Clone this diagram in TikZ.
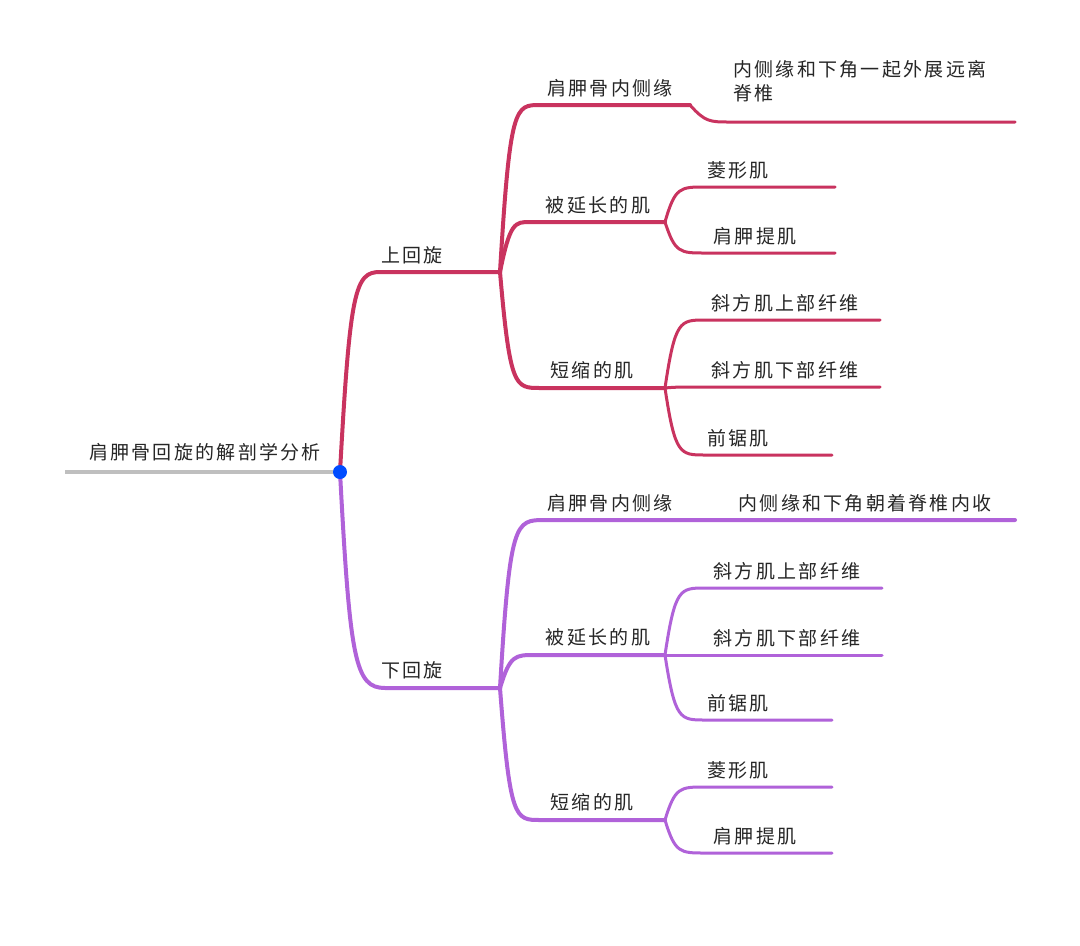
\documentclass[tikz,border=0pt]{standalone}
\usepackage{fontspec}
\newfontfamily\cjk[LetterSpace=12]{Noto Sans CJK SC}
\definecolor{rd}{HTML}{C9335F}
\definecolor{pu}{HTML}{B062D9}
\begin{document}
\begin{tikzpicture}[x=1pt,y=-1pt,
  lbl/.style={font=\cjk\fontsize{19}{24}\selectfont,inner sep=0pt,text=black!85},
  br/.style={line width=4pt,line cap=round},
  lf/.style={line width=3pt,line cap=round}]
\useasboundingbox (0,0) rectangle (1080,946);
\fill[white] (0,0) rectangle (1080,946);
% root
\coordinate (r0) at (65,472); \coordinate (r) at (340,472);
\draw[line width=4pt,gray!50] (r0) -- (r);
\node[lbl] (rt) at (205,452) {肩胛骨回旋的解剖学分析};
% upper
\coordinate (u) at (500,272);
\draw[br,rd] (r) .. controls (350,290) and (355,272) .. (380,272) -- (u);
\node[lbl] (ut) at (412,255) {上回旋};
\foreach \n/\y/\xe/\xm in {a/105/690/540,b/222/665/530,c/388/665/540}{
  \coordinate (u\n) at (\xe,\y);
  \draw[br,rd] (u) .. controls (510,\y) and (515,\y) .. (\xm,\y) -- (u\n);
}
\node[lbl] (uat) at (610,88) {肩胛骨内侧缘};
\node[lbl] (ubt) at (598,205) {被延长的肌};
\node[lbl] (uct) at (592,370) {短缩的肌};
\coordinate (uae) at (1015,122);
\draw[lf,rd] (ua) .. controls (705,122) and (710,122) .. (730,122) -- (uae);
\node[lbl,align=left,anchor=north west] (uat2) at (733,60) {内侧缘和下角一起外展远离\\脊椎};
\foreach \p/\y/\xe/\t/\tx in {ub/187/835/菱形肌/738,ub/253/835/肩胛提肌/755,uc/320/880/斜方肌上部纤维/785,uc/387/880/斜方肌下部纤维/785,uc/455/832/前锯肌/738}{
  \coordinate (e\y) at (\xe,\y);
  \draw[lf,rd] (\p) .. controls (675,\y) and (680,\y) .. (705,\y) -- (e\y);
  \node[lbl] (t\y) at (\tx,\y-17) {\t};
}
% lower
\coordinate (d) at (500,688);
\draw[br,pu] (r) .. controls (350,660) and (355,688) .. (385,688) -- (d);
\node[lbl] (dt) at (412,670) {下回旋};
\foreach \n/\y/\xe/\xm in {a/520/1015/545,b/655/665/535,c/820/665/540}{
  \coordinate (d\n) at (\xe,\y);
  \draw[br,pu] (d) .. controls (510,\y) and (515,\y) .. (\xm,\y) -- (d\n);
}
\node[lbl] (dat) at (610,503) {肩胛骨内侧缘};
\node[lbl] (dat2) at (865,503) {内侧缘和下角朝着脊椎内收};
\node[lbl] (dbt) at (598,637) {被延长的肌};
\node[lbl] (dct) at (592,802) {短缩的肌};
\foreach \p/\y/\xe/\t/\tx in {db/588/882/斜方肌上部纤维/787,db/655/882/斜方肌下部纤维/787,db/720/832/前锯肌/738,dc/787/832/菱形肌/738,dc/853/832/肩胛提肌/755}{
  \coordinate (f\y) at (\xe,\y);
  \draw[lf,pu] (\p) .. controls (675,\y) and (680,\y) .. (705,\y) -- (f\y);
  \node[lbl] (s\y) at (\tx,\y-17) {\t};
}
\fill[blue!70!cyan] (r) circle (7);
\end{tikzpicture}
\end{document}
